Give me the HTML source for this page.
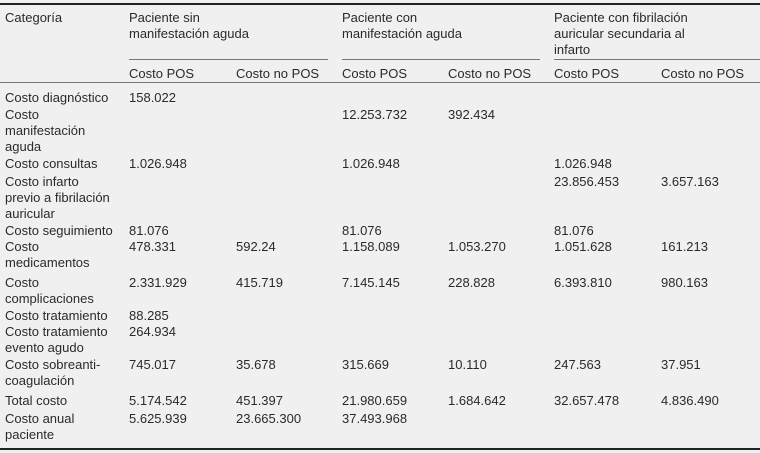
<!DOCTYPE html>
<html><head><meta charset="utf-8"><style>
html,body{margin:0;padding:0}
body{width:760px;height:453px;background:#f0f0f0;position:relative;overflow:hidden;font-family:"Liberation Sans","DejaVu Sans",sans-serif;font-size:13px;color:#2a2a2a}
.t{position:absolute;white-space:nowrap;line-height:16px;transform:translateY(-7px)}
.l{position:absolute;height:1px;background:#555}
</style></head><body>
<div class="l" style="left:0;top:3px;width:760px;height:2px;background:#222"></div>
<div class="l" style="left:129px;top:59px;width:199px;background:#777"></div>
<div class="l" style="left:342px;top:59px;width:198px;background:#777"></div>
<div class="l" style="left:554px;top:59px;width:206px;background:#777"></div>
<div class="l" style="left:0;top:82px;width:760px;background:#777"></div>
<div class="l" style="left:0;top:448px;width:760px;height:2px;background:#222"></div>

<div>
<div class="t" style="left:5px;top:17px">Categoría</div>
<div class="t" style="left:129px;top:17px">Paciente sin</div>
<div class="t" style="left:129px;top:33px">manifestación aguda</div>
<div class="t" style="left:342px;top:17px">Paciente con</div>
<div class="t" style="left:342px;top:33px">manifestación aguda</div>
<div class="t" style="left:554px;top:17px">Paciente con fibrilación</div>
<div class="t" style="left:554px;top:33px">auricular secundaria al</div>
<div class="t" style="left:554px;top:49px">infarto</div>
<div class="t" style="left:129px;top:73px">Costo POS</div>
<div class="t" style="left:236px;top:73px">Costo no POS</div>
<div class="t" style="left:342px;top:73px">Costo POS</div>
<div class="t" style="left:448px;top:73px">Costo no POS</div>
<div class="t" style="left:554px;top:73px">Costo POS</div>
<div class="t" style="left:661px;top:73px">Costo no POS</div>
</div>

<div>
<div class="t" style="left:5px;top:97px">Costo diagnóstico</div>
<div class="t" style="left:129px;top:97px">158.022</div>

<div class="t" style="left:5px;top:114px">Costo</div>
<div class="t" style="left:5px;top:130px">manifestación</div>
<div class="t" style="left:5px;top:146px">aguda</div>
<div class="t" style="left:342px;top:114px">12.253.732</div>
<div class="t" style="left:448px;top:114px">392.434</div>

<div class="t" style="left:5px;top:163px">Costo consultas</div>
<div class="t" style="left:129px;top:163px">1.026.948</div>
<div class="t" style="left:342px;top:163px">1.026.948</div>
<div class="t" style="left:554px;top:163px">1.026.948</div>

<div class="t" style="left:5px;top:181px">Costo infarto</div>
<div class="t" style="left:5px;top:197px">previo a fibrilación</div>
<div class="t" style="left:5px;top:213px">auricular</div>
<div class="t" style="left:554px;top:181px">23.856.453</div>
<div class="t" style="left:661px;top:181px">3.657.163</div>

<div class="t" style="left:5px;top:230px">Costo seguimiento</div>
<div class="t" style="left:129px;top:230px">81.076</div>
<div class="t" style="left:342px;top:230px">81.076</div>
<div class="t" style="left:554px;top:230px">81.076</div>

<div class="t" style="left:5px;top:246px">Costo</div>
<div class="t" style="left:5px;top:262px">medicamentos</div>
<div class="t" style="left:129px;top:246px">478.331</div>
<div class="t" style="left:236px;top:246px">592.24</div>
<div class="t" style="left:342px;top:246px">1.158.089</div>
<div class="t" style="left:448px;top:246px">1.053.270</div>
<div class="t" style="left:554px;top:246px">1.051.628</div>
<div class="t" style="left:661px;top:246px">161.213</div>

<div class="t" style="left:5px;top:282px">Costo</div>
<div class="t" style="left:5px;top:298px">complicaciones</div>
<div class="t" style="left:129px;top:282px">2.331.929</div>
<div class="t" style="left:236px;top:282px">415.719</div>
<div class="t" style="left:342px;top:282px">7.145.145</div>
<div class="t" style="left:448px;top:282px">228.828</div>
<div class="t" style="left:554px;top:282px">6.393.810</div>
<div class="t" style="left:661px;top:282px">980.163</div>

<div class="t" style="left:5px;top:315px">Costo tratamiento</div>
<div class="t" style="left:129px;top:315px">88.285</div>

<div class="t" style="left:5px;top:331px">Costo tratamiento</div>
<div class="t" style="left:5px;top:347px">evento agudo</div>
<div class="t" style="left:129px;top:331px">264.934</div>

<div class="t" style="left:5px;top:364px">Costo sobreanti-</div>
<div class="t" style="left:5px;top:380px">coagulación</div>
<div class="t" style="left:129px;top:364px">745.017</div>
<div class="t" style="left:236px;top:364px">35.678</div>
<div class="t" style="left:342px;top:364px">315.669</div>
<div class="t" style="left:448px;top:364px">10.110</div>
<div class="t" style="left:554px;top:364px">247.563</div>
<div class="t" style="left:661px;top:364px">37.951</div>

<div class="t" style="left:5px;top:400px">Total costo</div>
<div class="t" style="left:129px;top:400px">5.174.542</div>
<div class="t" style="left:236px;top:400px">451.397</div>
<div class="t" style="left:342px;top:400px">21.980.659</div>
<div class="t" style="left:448px;top:400px">1.684.642</div>
<div class="t" style="left:554px;top:400px">32.657.478</div>
<div class="t" style="left:661px;top:400px">4.836.490</div>

<div class="t" style="left:5px;top:418px">Costo anual</div>
<div class="t" style="left:5px;top:434px">paciente</div>
<div class="t" style="left:129px;top:418px">5.625.939</div>
<div class="t" style="left:236px;top:418px">23.665.300</div>
<div class="t" style="left:342px;top:418px">37.493.968</div>
</div>
</body></html>
